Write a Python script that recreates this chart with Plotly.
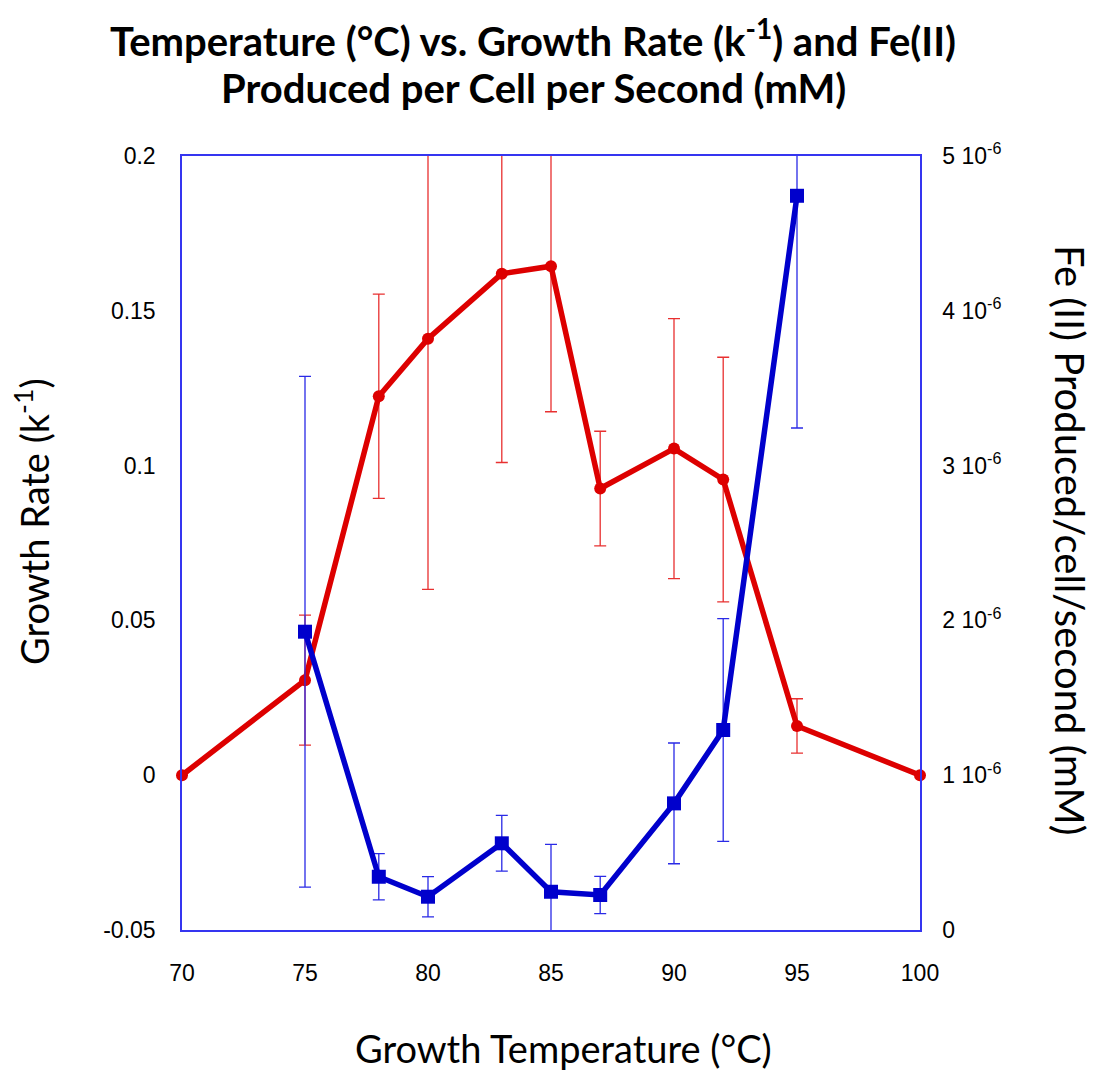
import plotly.graph_objects as go

# ---- data ----
temps = [70, 75, 78, 80, 83, 85, 87, 90, 92, 95, 100]
growth_rate = [0, 0.0307, 0.1224, 0.141, 0.162, 0.1644, 0.0926, 0.1055, 0.0955, 0.0159, 0]
growth_err = [None, 0.021, 0.033, 0.081, 0.061, 0.047, 0.0185, 0.042, 0.0395, 0.0088, None]

fe_temps = [75, 78, 80, 83, 85, 87, 90, 92, 95]
fe_rate = [1.927e-6, 0.344e-6, 0.215e-6, 0.56e-6, 0.247e-6, 0.226e-6, 0.818e-6, 1.292e-6, 4.743e-6]
fe_err = [1.65e-6, 0.15e-6, 0.13e-6, 0.18e-6, 0.306e-6, 0.12e-6, 0.39e-6, 0.72e-6, 1.5e-6]

x_ticks = [70, 75, 80, 85, 90, 95, 100]
left_ticks = [-0.05, 0, 0.05, 0.1, 0.15, 0.2]
left_ticktext = ["-0.05", "0", "0.05", "0.1", "0.15", "0.2"]
right_ticks = [0, 1e-6, 2e-6, 3e-6, 4e-6, 5e-6]
right_ticktext = ["0", "1 10<sup>-6</sup>", "2 10<sup>-6</sup>", "3 10<sup>-6</sup>",
                  "4 10<sup>-6</sup>", "5 10<sup>-6</sup>"]

RED = "#dd0000"
RED_ERR = "#e83030"
BLUE = "#0000cc"
BLUE_ERR = "#2a2ae6"
FRAME = "#3535f0"

fig = go.Figure()

# error bars (clipped to plot area)
fig.add_trace(go.Scatter(
    x=temps, y=growth_rate, mode="markers", marker=dict(opacity=0, size=1),
    error_y=dict(type="data", array=growth_err, visible=True, color=RED_ERR,
                 thickness=1.3, width=6),
    cliponaxis=True, showlegend=False, hoverinfo="skip", yaxis="y"))
fig.add_trace(go.Scatter(
    x=temps, y=growth_rate, mode="lines+markers",
    line=dict(color=RED, width=5.5),
    marker=dict(color=RED, size=12, symbol="circle"),
    cliponaxis=False, showlegend=False, yaxis="y"))

fig.add_trace(go.Scatter(
    x=fe_temps, y=fe_rate, mode="markers", marker=dict(opacity=0, size=1),
    error_y=dict(type="data", array=fe_err, visible=True, color=BLUE_ERR,
                 thickness=1.3, width=6),
    cliponaxis=True, showlegend=False, hoverinfo="skip", yaxis="y2"))
fig.add_trace(go.Scatter(
    x=fe_temps, y=fe_rate, mode="lines+markers",
    line=dict(color=BLUE, width=5.5),
    marker=dict(color=BLUE, size=14, symbol="square"),
    cliponaxis=False, showlegend=False, yaxis="y2"))

tick_font = dict(family="Liberation Sans, Arial, sans-serif", size=23, color="black")

# page has an 8px body margin; plot area sits at screen x 182..920, y 156..930
fig.update_layout(
    width=1096, height=1063,
    margin=dict(l=174, r=184, t=148, b=141),
    paper_bgcolor="white", plot_bgcolor="white",
    showlegend=False,
    xaxis=dict(range=[70, 100], tickvals=x_ticks, ticks="", showgrid=False, zeroline=False,
               showline=True, linecolor=FRAME, linewidth=1.5, mirror=True,
               tickfont=tick_font, ticklabelstandoff=22),
    yaxis=dict(range=[-0.05, 0.2], tickvals=left_ticks, ticktext=left_ticktext, ticks="",
               showgrid=False, zeroline=False, showline=True, linecolor=FRAME, linewidth=1.5,
               tickfont=tick_font, ticklabelstandoff=20),
    yaxis2=dict(range=[0, 5e-6], tickvals=right_ticks, ticktext=right_ticktext, ticks="",
                overlaying="y", side="right", showgrid=False, zeroline=False,
                showline=True, linecolor=FRAME, linewidth=1.5,
                tickfont=tick_font, ticklabelstandoff=16),
)

title_font = dict(family="Lato, sans-serif", size=40, color="black")
axis_title_font = dict(family="Lato, sans-serif", size=38, color="black")
right_title_font = dict(family="Lato, sans-serif", size=40, color="black")

W = 738.0
H = 774.0


def px_x(px):
    return (px - 182) / W


def px_y(py):
    return (930 - py) / H


fig.add_annotation(text="<b>Temperature (°C) vs. Growth Rate (k<sup>-1</sup>) and Fe(II)</b>",
                   xref="paper", yref="paper", x=px_x(533), y=px_y(38),
                   xanchor="center", yanchor="middle", showarrow=False, font=title_font)
fig.add_annotation(text="<b>Produced per Cell per Second (mM)</b>",
                   xref="paper", yref="paper", x=px_x(533), y=px_y(88),
                   xanchor="center", yanchor="middle", showarrow=False, font=title_font)
fig.add_annotation(text="Growth Temperature (°C)",
                   xref="paper", yref="paper", x=px_x(563), y=px_y(1048),
                   xanchor="center", yanchor="middle", showarrow=False, font=axis_title_font)
fig.add_annotation(text="Growth Rate (k<sup>-1</sup>)",
                   xref="paper", yref="paper", x=px_x(32), y=px_y(522),
                   xanchor="center", yanchor="middle", showarrow=False, textangle=-90,
                   font=axis_title_font)
fig.add_annotation(text="Fe (II) Produced/cell/second (mM)",
                   xref="paper", yref="paper", x=px_x(1070), y=px_y(540),
                   xanchor="center", yanchor="middle", showarrow=False, textangle=90,
                   font=right_title_font)

fig.write_html("out.html")
